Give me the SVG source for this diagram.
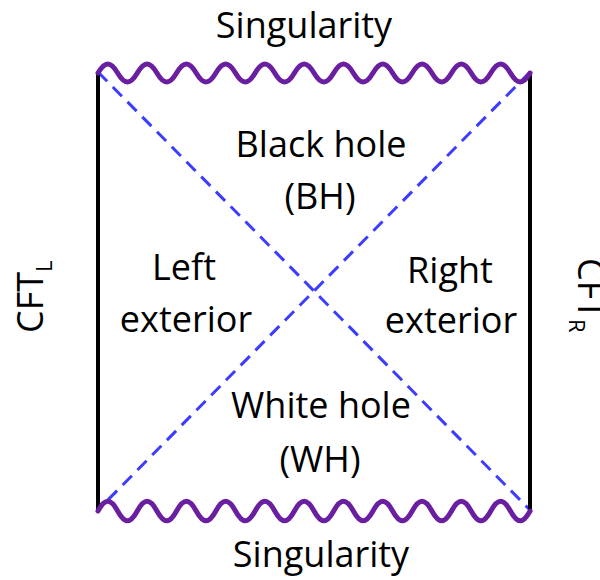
<svg xmlns="http://www.w3.org/2000/svg" width="600" height="580" viewBox="0 0 600 580">
<style>
text{font-family:"Open Sans","Noto Sans","Liberation Sans",sans-serif;font-size:36px;fill:#000;text-anchor:middle}
.wave{fill:none;stroke:#6A1FA0;stroke-width:5;stroke-linecap:round;stroke-linejoin:round}
.edge{stroke:#000;stroke-width:4;fill:none}
.hor{stroke:#3C3CFF;stroke-width:3;stroke-dasharray:13 8;fill:none}
.sub{font-size:22px}
</style>
<rect width="600" height="580" fill="#fff"/>
<g id="connectors">
<line class="hor" x1="98" y1="72" x2="530" y2="510"/>
<line class="hor" x1="530" y1="72" x2="98" y2="510"/>
</g>
<g id="left-boundary"><line class="edge" x1="98" y1="72" x2="98" y2="510"/></g>
<g id="right-boundary"><line class="edge" x1="530" y1="72" x2="530" y2="510"/></g>
<g id="top-singularity">
<path class="wave" d="M98,73 c7.07,-12 12.57,-12 19.64,0 c7.07,12 12.57,12 19.64,0 c7.07,-12 12.57,-12 19.64,0 c7.07,12 12.57,12 19.64,0 c7.07,-12 12.57,-12 19.64,0 c7.07,12 12.57,12 19.64,0 c7.07,-12 12.57,-12 19.64,0 c7.07,12 12.57,12 19.64,0 c7.07,-12 12.57,-12 19.64,0 c7.07,12 12.57,12 19.64,0 c7.07,-12 12.57,-12 19.64,0 c7.07,12 12.57,12 19.64,0 c7.07,-12 12.57,-12 19.64,0 c7.07,12 12.57,12 19.64,0 c7.07,-12 12.57,-12 19.64,0 c7.07,12 12.57,12 19.64,0 c7.07,-12 12.57,-12 19.64,0 c7.07,12 12.57,12 19.64,0 c7.07,-12 12.57,-12 19.64,0 c7.07,12 12.57,12 19.64,0 c7.07,-12 12.57,-12 19.64,0 c7.07,12 12.57,12 19.64,0"/>
<text x="304" y="38">Singularity</text>
</g>
<g id="bottom-singularity">
<path class="wave" d="M98,511 c7.07,-13 12.57,-13 19.64,0 c7.07,13 12.57,13 19.64,0 c7.07,-13 12.57,-13 19.64,0 c7.07,13 12.57,13 19.64,0 c7.07,-13 12.57,-13 19.64,0 c7.07,13 12.57,13 19.64,0 c7.07,-13 12.57,-13 19.64,0 c7.07,13 12.57,13 19.64,0 c7.07,-13 12.57,-13 19.64,0 c7.07,13 12.57,13 19.64,0 c7.07,-13 12.57,-13 19.64,0 c7.07,13 12.57,13 19.64,0 c7.07,-13 12.57,-13 19.64,0 c7.07,13 12.57,13 19.64,0 c7.07,-13 12.57,-13 19.64,0 c7.07,13 12.57,13 19.64,0 c7.07,-13 12.57,-13 19.64,0 c7.07,13 12.57,13 19.64,0 c7.07,-13 12.57,-13 19.64,0 c7.07,13 12.57,13 19.64,0 c7.07,-13 12.57,-13 19.64,0 c7.07,13 12.57,13 19.64,0"/>
<text x="321" y="567">Singularity</text>
</g>
<g id="black-hole">
<text x="321" y="157">Black hole</text>
<text x="320" y="209">(BH)</text>
</g>
<g id="left-exterior">
<text x="184" y="280">Left</text>
<text x="186" y="332">exterior</text>
</g>
<g id="right-exterior">
<text x="450" y="283">Right</text>
<text x="451" y="333">exterior</text>
</g>
<g id="white-hole">
<text x="321" y="418">White hole</text>
<text x="320" y="472">(WH)</text>
</g>
<g id="cft-left">
<text transform="translate(43,333) rotate(-90)" style="text-anchor:start">CFT<tspan class="sub" dy="9">L</tspan></text>
</g>
<g id="cft-right">
<text transform="translate(578,258) rotate(90)" style="text-anchor:start">CFT<tspan class="sub" dy="9">R</tspan></text>
</g>
</svg>
